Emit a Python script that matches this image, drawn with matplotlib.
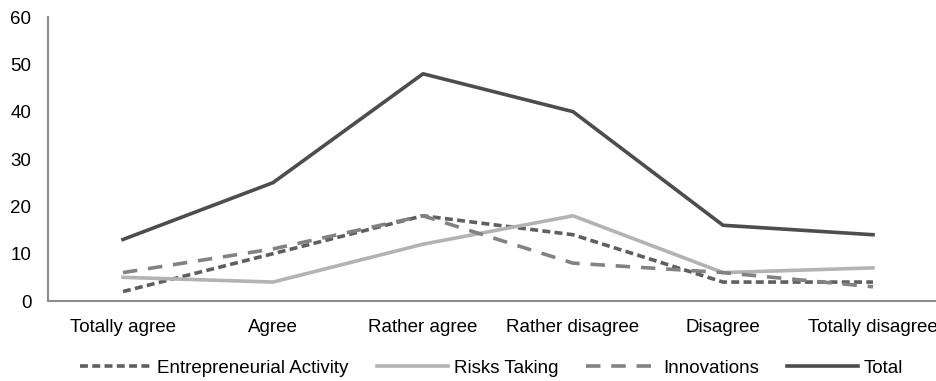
import matplotlib.pyplot as plt

plt.rcParams['font.family'] = ['Liberation Sans', 'DejaVu Sans']

categories = ["Totally agree", "Agree", "Rather agree", "Rather disagree",
              "Disagree", "Totally disagree"]
entrepreneurial = [2, 10, 18, 14, 4, 4]
risks = [5, 4, 12, 18, 6, 7]
innovations = [6, 11, 18, 8, 6, 3]
total = [13, 25, 48, 40, 16, 14]

fig = plt.figure(figsize=(9.37, 3.81), dpi=100)
# plot area runs past the right edge of the canvas
ax = fig.add_axes([48 / 937, 1 - 301 / 381, 900 / 937, 284 / 381])

x = range(len(categories))
ax.plot(x, entrepreneurial, color='#5f5f5f', lw=2.6, linestyle=(0, (2.2, 1.2)),
        label="Entrepreneurial Activity")
ax.plot(x, risks, color='#b3b3b3', lw=2.6, label="Risks Taking")
ax.plot(x, innovations, color='#828282', lw=2.6, linestyle=(0, (4, 3)),
        label="Innovations")
ax.plot(x, total, color='#4d4d4d', lw=2.6, label="Total")

ax.set_xlim(-0.5, 5.5)
ax.set_ylim(0, 60)
ax.set_yticks(range(0, 61, 10))
ax.set_xticks(list(x))
ax.set_xticklabels(categories)
ax.tick_params(length=0, labelsize=13.5, colors='black')
ax.tick_params(axis='y', pad=12)
ax.tick_params(axis='x', pad=13)

for side in ['top', 'right']:
    ax.spines[side].set_visible(False)
for side in ['left', 'bottom']:
    ax.spines[side].set_color('#8c8c8c')
    ax.spines[side].set_linewidth(1.5)

fig.legend(loc='center', bbox_to_anchor=(492 / 937, 1 - 368 / 381), ncol=4,
           frameon=False, fontsize=13.5, handlelength=3.8, handletextpad=0.3,
           columnspacing=1.5)

fig.savefig("out.png", dpi=100)
